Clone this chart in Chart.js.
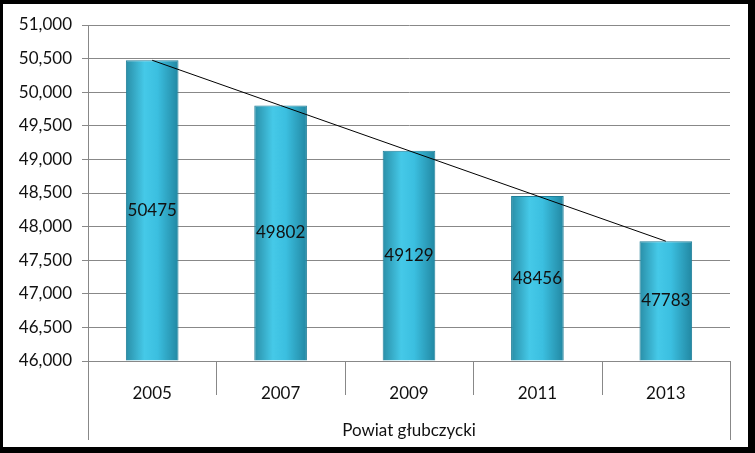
<!DOCTYPE html>
<html>
<head>
<meta charset="utf-8">
<script src="https://cdn.jsdelivr.net/npm/chart.js@4"></script>
<style>
  body { margin: 0; background: #000; }
  #panel { position: absolute; left: 3px; top: 4px; width: 745px; height: 443px; background: #fff; }
</style>
</head>
<body>
<div id="panel"><canvas id="c" width="745" height="443"></canvas></div>
<script>
const years = ['2005', '2007', '2009', '2011', '2013'];
const population = [50475, 49802, 49129, 48456, 47783];
const groupLabel = 'Powiat głubczycki';
const FONT = 'Lato, "Open Sans", sans-serif';

const barGradient = (ctx) => {
  const chart = ctx.chart;
  const x = chart.scales.x;
  if (!x || ctx.dataIndex === undefined) return '#35b8d8';
  const cx = x.getPixelForValue(ctx.dataIndex);
  if (!isFinite(cx)) return '#35b8d8';
  const g = chart.ctx.createLinearGradient(cx - 26, 0, cx + 26, 0);
  g.addColorStop(0, '#2a8fa8');
  g.addColorStop(0.35, '#45c9e8');
  g.addColorStop(0.6, '#3bbfe0');
  g.addColorStop(1, '#2288a3');
  return g;
};

const decor = {
  id: 'decor',
  afterDatasetsDraw(chart) {
    const { ctx, chartArea: a, scales: { x } } = chart;
    // values inside bars
    const bars = chart.getDatasetMeta(1).data;
    ctx.save();
    ctx.font = '17px ' + FONT;
    ctx.fillStyle = '#111';
    ctx.textAlign = 'center';
    ctx.textBaseline = 'middle';
    bars.forEach((b, i) => {
      ctx.fillText(String(population[i]), b.x, (b.y + b.base) / 2);
    });
    // category separators and group box
    ctx.strokeStyle = '#888';
    ctx.lineWidth = 1;
    ctx.beginPath();
    const step = (x.getPixelForValue(1) - x.getPixelForValue(0));
    for (let i = 0; i <= years.length; i++) {
      const px = Math.round(x.getPixelForValue(0) - step / 2 + i * step) + 0.5;
      const full = (i === 0 || i === years.length);
      ctx.moveTo(px, a.bottom);
      ctx.lineTo(px, full ? a.bottom + 79 : a.bottom + 34);
    }
    ctx.stroke();
    ctx.fillText(groupLabel, (a.left + a.right) / 2, a.bottom + 70);
    ctx.restore();
  }
};

new Chart(document.getElementById('c'), {
  data: {
    labels: years,
    datasets: [
      {
        type: 'line', data: population, borderColor: '#000', borderWidth: 1,
        pointRadius: 0, tension: 0, order: 0
      },
      {
        type: 'bar', data: population, backgroundColor: barGradient,
        borderColor: '#1f7f99', borderWidth: 1,
        barPercentage: 0.41, categoryPercentage: 1, base: 46000, order: 1
      }
    ]
  },
  options: {
    responsive: false,
    animation: false,
    layout: { padding: { top: 21, right: 18, left: 0, bottom: 0 } },
    plugins: { legend: { display: false }, tooltip: { enabled: false } },
    scales: {
      x: {
        grid: { display: false },
        border: { color: '#888' },
        ticks: { color: '#111', font: { family: FONT, size: 17 }, padding: 14 },
        afterFit: (s) => { s.height = 86; }
      },
      y: {
        min: 46000, max: 51000,
        ticks: { stepSize: 500, color: '#111', font: { family: FONT, size: 17 }, padding: 10 },
        grid: { color: '#888', tickLength: 6 },
        border: { color: '#888' },
        afterFit: (s) => { s.width = 85; }
      }
    }
  },
  plugins: [decor]
});
</script>
</body>
</html>
